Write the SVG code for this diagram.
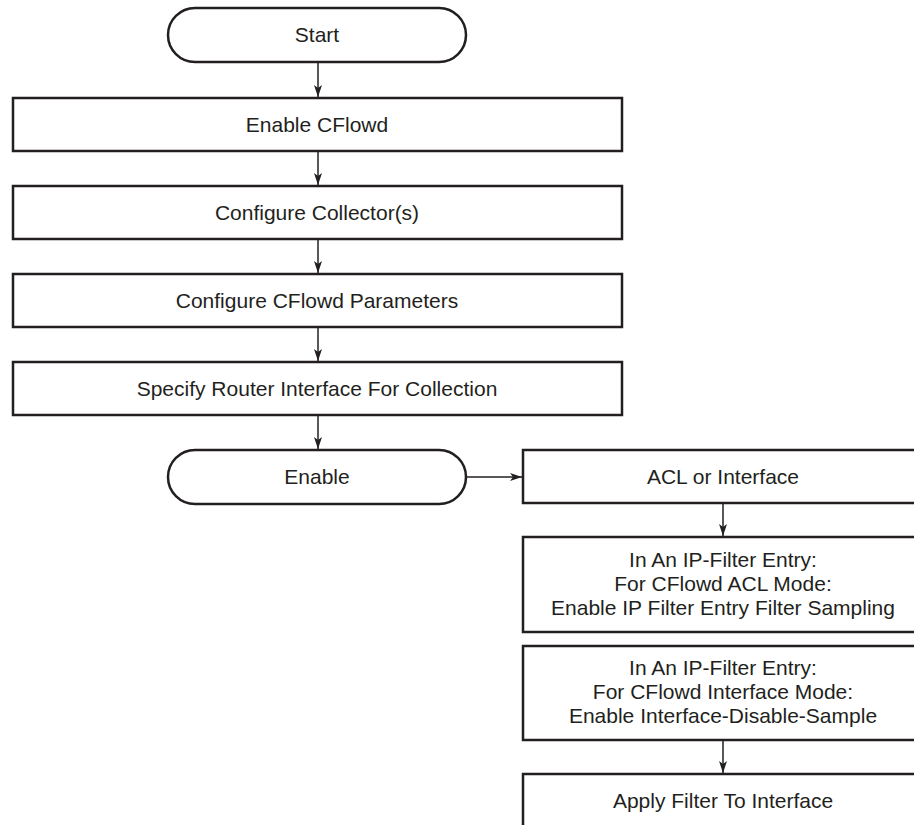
<svg xmlns="http://www.w3.org/2000/svg" width="914" height="825" viewBox="0 0 914 825">
<defs>
<marker id="ah" markerUnits="userSpaceOnUse" markerWidth="13" markerHeight="9" refX="12" refY="4.5" orient="auto">
<path d="M0,0.5 L12,4.5 L0,8.5 L3,4.5 Z" fill="#231f20"/>
</marker>
<style>
.box{fill:#fff;stroke:#231f20;stroke-width:2.5}
.t{font-family:"Liberation Sans",Arial,sans-serif;font-size:21px;fill:#231f20;text-anchor:middle}
.c{fill:none;stroke:#231f20;stroke-width:1.5;marker-end:url(#ah)}
</style>
</defs>
<rect width="914" height="825" fill="#fff"/>
<g id="connectors">
<line class="c" x1="318" y1="62" x2="318" y2="97"/>
<line class="c" x1="318" y1="151" x2="318" y2="185"/>
<line class="c" x1="318" y1="239" x2="318" y2="273"/>
<line class="c" x1="318" y1="327" x2="318" y2="361"/>
<line class="c" x1="318" y1="415" x2="318" y2="449"/>
<line class="c" x1="466" y1="477" x2="522" y2="477"/>
<line class="c" x1="723" y1="503" x2="723" y2="536"/>
<line class="c" x1="723" y1="740" x2="723" y2="773"/>
</g>
<g id="start">
<rect class="box" x="168" y="8" width="298" height="54" rx="27"/>
<text class="t" x="317" y="42">Start</text>
</g>
<g id="enable-cflowd">
<rect class="box" x="13" y="98" width="609" height="53"/>
<text class="t" x="317" y="132">Enable CFlowd</text>
</g>
<g id="configure-collectors">
<rect class="box" x="13" y="186" width="609" height="53"/>
<text class="t" x="317" y="220">Configure Collector(s)</text>
</g>
<g id="configure-params">
<rect class="box" x="13" y="274" width="609" height="53"/>
<text class="t" x="317" y="308">Configure CFlowd Parameters</text>
</g>
<g id="specify-interface">
<rect class="box" x="13" y="362" width="609" height="53"/>
<text class="t" x="317" y="396">Specify Router Interface For Collection</text>
</g>
<g id="enable">
<rect class="box" x="168" y="450" width="298" height="54" rx="27"/>
<text class="t" x="317" y="484">Enable</text>
</g>
<g id="acl-or-interface">
<rect class="box" x="523" y="450" width="400" height="53"/>
<text class="t" x="723" y="484">ACL or Interface</text>
</g>
<g id="acl-mode">
<rect class="box" x="523" y="537" width="400" height="95"/>
<text class="t" x="723" y="567">In An IP-Filter Entry:</text>
<text class="t" x="723" y="591">For CFlowd ACL Mode:</text>
<text class="t" x="723" y="615">Enable IP Filter Entry Filter Sampling</text>
</g>
<g id="interface-mode">
<rect class="box" x="523" y="646" width="400" height="94"/>
<text class="t" x="723" y="675">In An IP-Filter Entry:</text>
<text class="t" x="723" y="699">For CFlowd Interface Mode:</text>
<text class="t" x="723" y="723">Enable Interface-Disable-Sample</text>
</g>
<g id="apply-filter">
<rect class="box" x="523" y="774" width="400" height="80"/>
<text class="t" x="723" y="808">Apply Filter To Interface</text>
</g>
</svg>
